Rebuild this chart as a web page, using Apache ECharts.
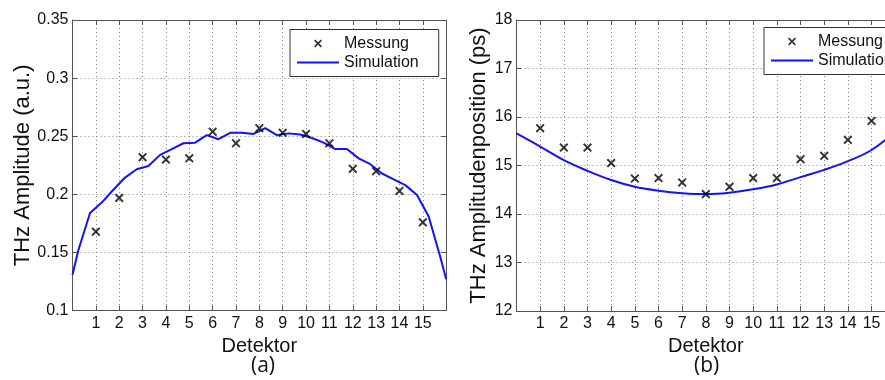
<!DOCTYPE html>
<html>
<head>
<meta charset="utf-8">
<script src="https://cdn.jsdelivr.net/npm/echarts@6/dist/echarts.min.js"></script>
<style>
  html, body { margin: 0; padding: 0; background: #fff; }
  #chart { width: 885px; height: 380px; }
</style>
</head>
<body>
<div id="chart"></div>
<script>
// Detector index (x axis of both panels)
const detector = [1, 2, 3, 4, 5, 6, 7, 8, 9, 10, 11, 12, 13, 14, 15];
const xTickLabels = ['1', '2', '3', '4', '5', '6', '7', '8', '9', '10', '11', '12', '13', '14', '15'];

// (a) THz amplitude
const ampMeasured = [0.168, 0.197, 0.232, 0.230, 0.231, 0.254, 0.244, 0.257, 0.253, 0.252, 0.244, 0.222, 0.220, 0.203, 0.176];
const ampSimX = [0, 0.25, 0.75, 1.25, 1.75, 2.25, 2.75, 3.25, 3.75, 4.25, 4.75, 5.25, 5.75, 6.25, 6.75, 7.25, 7.75,
                 8.25, 8.75, 9.25, 9.75, 10.25, 10.75, 11.25, 11.75, 12.25, 12.75, 13.25, 13.75, 14.25, 14.75, 15.25, 15.75, 16];
const ampSimY = [0.131, 0.152, 0.184, 0.193, 0.204, 0.2145, 0.2216, 0.2244, 0.234, 0.239, 0.244, 0.2445, 0.251, 0.2475, 0.253, 0.253, 0.252,
                 0.257, 0.251, 0.2525, 0.2515, 0.2485, 0.2445, 0.239, 0.239, 0.231, 0.226, 0.218, 0.213, 0.208, 0.1995, 0.181, 0.146, 0.127];
const ampTicks = ['0.1', '0.15', '0.2', '0.25', '0.3', '0.35'];

// (b) THz amplitude position
const posMeasured = [15.77, 15.37, 15.37, 15.05, 14.73, 14.74, 14.65, 14.41, 14.56, 14.74, 14.74, 15.13, 15.20, 15.53, 15.92];
const posSimX = [0, 1, 2, 3, 4, 5, 6, 7, 8, 9, 10, 11, 12, 13, 14, 15, 16];
const posSimY = [15.66, 15.39, 15.11, 14.89, 14.70, 14.56, 14.48, 14.43, 14.41, 14.44, 14.51, 14.61, 14.76, 14.91, 15.09, 15.32, 15.70];
const posTicks = ['12', '13', '14', '15', '16', '17', '18'];

const FONT = '"Liberation Sans", Arial, sans-serif';
const TEXT = '#111';
const FRAME = '#555';
const BLUE = '#1212ff';
const CROSS = 'path://M0,1.5 L1.5,0 L5,3.5 L8.5,0 L10,1.5 L6.5,5 L10,8.5 L8.5,10 L5,6.5 L1.5,10 L0,8.5 L3.5,5 Z';
const DASH = 'path://M0,0 L40,0 L40,2 L0,2 Z';

const zip = (xs, ys) => xs.map((x, i) => [x, ys[i]]);

function bottomX(gridIndex) {
  return {
    type: 'value', gridIndex, min: 0, max: 16, interval: 1,
    name: 'Detektor', nameLocation: 'middle', nameGap: 22,
    nameTextStyle: { fontFamily: FONT, fontSize: 20, color: TEXT },
    axisLine: { show: true, onZero: false, lineStyle: { color: FRAME, width: 1 } },
    axisTick: { show: true, inside: true, length: 5, lineStyle: { color: FRAME } },
    axisLabel: {
      fontFamily: FONT, fontSize: 16, color: TEXT, margin: 5,
      formatter: v => xTickLabels[v - 1] || ''
    },
    splitLine: { show: true, lineStyle: { color: '#808080', type: [1, 3], width: 1 } }
  };
}
function topX(gridIndex) {
  return {
    type: 'value', gridIndex, min: 0, max: 16, interval: 1, position: 'top',
    axisLine: { show: true, onZero: false, lineStyle: { color: FRAME, width: 1 } },
    axisTick: { show: true, inside: true, length: 5, lineStyle: { color: FRAME } },
    axisLabel: { show: false }, splitLine: { show: false }
  };
}
function leftY(gridIndex, min, max, interval, ticks, name, nameSize, nameGap) {
  return {
    type: 'value', gridIndex, min, max, interval,
    name, nameLocation: 'middle', nameGap,
    nameTextStyle: { fontFamily: FONT, fontSize: nameSize, color: TEXT },
    axisLine: { show: true, onZero: false, lineStyle: { color: FRAME, width: 1 } },
    axisTick: { show: true, inside: true, length: 5, lineStyle: { color: FRAME } },
    axisLabel: {
      fontFamily: FONT, fontSize: 16, color: TEXT, margin: 4,
      formatter: v => ticks[Math.round((v - min) / interval)]
    },
    splitLine: { show: true, lineStyle: { color: '#808080', type: [1, 3], width: 1 } }
  };
}
function rightY(gridIndex, min, max, interval) {
  return {
    type: 'value', gridIndex, min, max, interval, position: 'right',
    axisLine: { show: true, onZero: false, lineStyle: { color: FRAME, width: 1 } },
    axisTick: { show: true, inside: true, length: 5, lineStyle: { color: FRAME } },
    axisLabel: { show: false }, splitLine: { show: false }
  };
}
function legendBox(left, top) {
  return {
    orient: 'vertical', left, top,
    itemWidth: 42, itemHeight: 8, itemGap: 3,
    padding: [6, 20, 6, 7],
    borderColor: '#333', borderWidth: 1, borderRadius: 0,
    backgroundColor: '#fff',
    selectedMode: false,
    textStyle: { fontFamily: FONT, fontSize: 16, color: TEXT },
    data: [{ name: 'Messung', icon: CROSS }, { name: 'Simulation', icon: DASH }]
  };
}

const chart = echarts.init(document.getElementById('chart'), null, { renderer: 'canvas' });
chart.setOption({
  animation: false,
  backgroundColor: '#fff',
  grid: [
    { left: 72.5, top: 20, width: 373.7, height: 290.7, show: false, outerBoundsMode: 'none', containLabel: false },
    { left: 516.5, top: 20, width: 378.7, height: 291, show: false, outerBoundsMode: 'none', containLabel: false }
  ],
  xAxis: [bottomX(0), topX(0), bottomX(1), topX(1)],
  yAxis: [
    leftY(0, 0.1, 0.35, 0.05, ampTicks, 'THz Amplitude (a.u.)', 22, 37),
    rightY(0, 0.1, 0.35, 0.05),
    leftY(1, 12, 18, 1, posTicks, 'THz Amplitudenposition (ps)', 22, 27),
    rightY(1, 12, 18, 1)
  ],
  legend: [legendBox(290, 29.5), legendBox(764, 27.5)],
  series: [
    {
      name: 'Simulation', type: 'line', xAxisIndex: 0, yAxisIndex: 0,
      data: zip(ampSimX, ampSimY), symbol: 'none', smooth: false,
      lineStyle: { color: BLUE, width: 2 }, itemStyle: { color: BLUE }, z: 3
    },
    {
      name: 'Messung', type: 'scatter', xAxisIndex: 0, yAxisIndex: 0,
      data: zip(detector, ampMeasured), symbol: CROSS, symbolSize: 9,
      itemStyle: { color: '#000' }, z: 4
    },
    {
      name: 'Simulation', type: 'line', xAxisIndex: 2, yAxisIndex: 2,
      data: zip(posSimX, posSimY), symbol: 'none', smooth: 0.4,
      lineStyle: { color: BLUE, width: 2 }, itemStyle: { color: BLUE }, z: 3
    },
    {
      name: 'Messung', type: 'scatter', xAxisIndex: 2, yAxisIndex: 2,
      data: zip(detector, posMeasured), symbol: CROSS, symbolSize: 9,
      itemStyle: { color: '#000' }, z: 4
    }
  ],
  graphic: [
    { type: 'text', left: 251, top: 356, style: { text: '(a)', font: '21px "Open Sans", sans-serif', fill: TEXT } },
    { type: 'text', left: 694, top: 356, style: { text: '(b)', font: '21px "Open Sans", sans-serif', fill: TEXT } }
  ]
});
</script>
</body>
</html>
